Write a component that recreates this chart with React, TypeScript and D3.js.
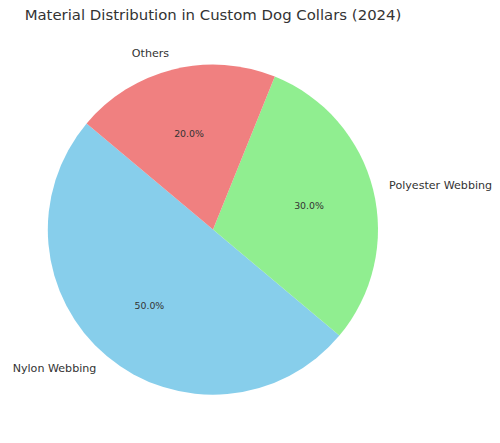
import React from "react";
import * as d3 from "d3";

const categories = ["Nylon Webbing", "Polyester Webbing", "Others"];
const values = [50, 30, 20];
const colors = ["#87CEEB", "#90EE90", "#F08080"];

const W = 500, H = 443;
const cx = 213, cy = 229.5, R = 165;
const startDeg = 140;

export default function App() {
  const total = d3.sum(values);
  const scale = d3.scaleLinear().domain([0, total]).range([0, 360]);
  let cum = 0;
  const slices = values.map((v, i) => {
    const a0 = startDeg + scale(cum);
    cum += v;
    const a1 = startDeg + scale(cum);
    return { i, v, a0, a1 };
  });
  const toD3 = (deg: number) => ((90 - deg) * Math.PI) / 180;
  const arc = d3.arc<any>().innerRadius(0).outerRadius(R);
  const font = "DejaVu Sans, sans-serif";
  return (
    <svg width={W} height={H} style={{ position: "absolute", left: 0, top: 0, background: "#fff" }}>
      <text x={213} y={19.5} textAnchor="middle" fontFamily={font} fontSize={14.9} fill="#333">
        Material Distribution in Custom Dog Collars (2024)
      </text>
      <g transform={`translate(${cx},${cy})`}>
        {slices.map((s) => (
          <path
            key={s.i}
            d={arc({ startAngle: toD3(s.a1), endAngle: toD3(s.a0) }) as string}
            fill={colors[s.i]}
          />
        ))}
        {slices.map((s) => {
          const mid = ((s.a0 + s.a1) / 2) * Math.PI / 180;
          const lx = 1.1 * R * Math.cos(mid);
          const ly = -1.1 * R * Math.sin(mid);
          const px = 0.6 * R * Math.cos(mid);
          const py = -0.6 * R * Math.sin(mid);
          const anchor = Math.cos(mid) >= 0 ? "start" : "end";
          return (
            <g key={"t" + s.i}>
              <text x={lx} y={ly} dy="0.35em" textAnchor={anchor} fontFamily={font} fontSize={11.1} fill="#333">
                {categories[s.i]}
              </text>
              <text x={px} y={py} dy="0.35em" textAnchor="middle" fontFamily={font} fontSize={9.4} fill="#333">
                {d3.format(".1f")(s.v / total * 100) + "%"}
              </text>
            </g>
          );
        })}
      </g>
    </svg>
  );
}
